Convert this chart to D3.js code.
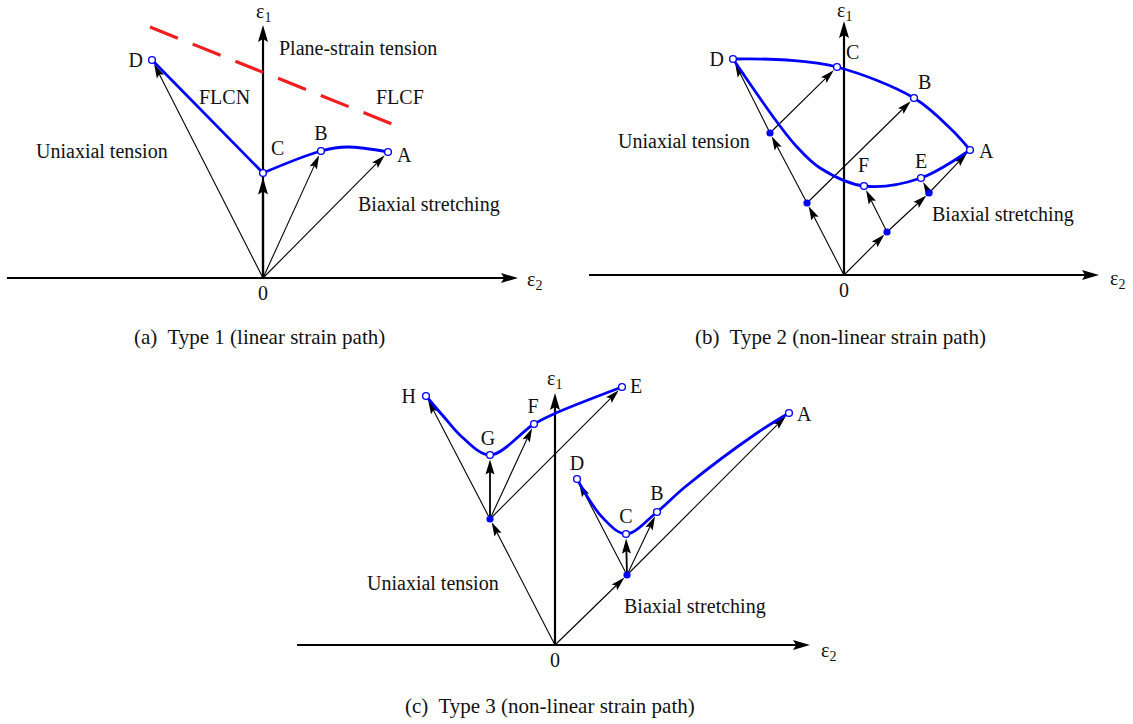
<!DOCTYPE html>
<html>
<head>
<meta charset="utf-8">
<script src="https://cdn.jsdelivr.net/npm/d3@7"></script>
<style>
  body { margin: 0; background: #fff; }
  text { font-family: "Liberation Serif", "Times New Roman", serif; fill: #111; white-space: pre; }
</style>
</head>
<body>
<div id="container"></div>
<script>
let w = 1133;
let h = 724;

// ---- data (strain space, e2 = minor strain, e1 = major strain) ----

// (a) Type 1 : linear strain path
let typeOnePoints = [
  {name: "D", e2: -1.11, e1: 2.18},
  {name: "C", e2: 0.00, e1: 1.05},
  {name: "B", e2: 0.58, e1: 1.27},
  {name: "A", e2: 1.25, e1: 1.26}
];
let typeOneFlcnLeft = [[-1.11, 2.18], [0.00, 1.05]];
let typeOneFlcnRight = [[0.00, 1.05], [0.58, 1.27], [0.84, 1.31], [1.25, 1.26]];
let typeOneFlcf = [[-1.13, 2.51], [1.39, 1.50]];
let typeOneArrows = [["O", "D"], ["O", "B"], ["O", "A"]];

// (b) Type 2 : non-linear strain path
let typeTwoPoints = [
  {name: "D", e2: -1.11, e1: 2.16},
  {name: "C", e2: -0.07, e1: 2.08},
  {name: "B", e2: 0.70, e1: 1.77},
  {name: "A", e2: 1.26, e1: 1.25},
  {name: "E", e2: 0.77, e1: 0.97},
  {name: "F", e2: 0.20, e1: 0.89}
];
let typeTwoDots = [
  {name: "p1", e2: -0.74, e1: 1.42},
  {name: "p2", e2: -0.37, e1: 0.72},
  {name: "p3", e2: 0.43, e1: 0.43},
  {name: "p4", e2: 0.85, e1: 0.82}
];
let typeTwoUpper = [[-1.11, 2.16], [-0.57, 2.15], [-0.07, 2.08], [0.70, 1.77], [1.08, 1.45], [1.26, 1.25]];
let typeTwoLower = [[-1.11, 2.16], [-0.67, 1.53], [-0.47, 1.28], [-0.24, 1.07], [0.20, 0.89], [0.77, 0.97], [1.26, 1.25]];
let typeTwoArrows = [
  ["O", "p2"], ["p2", "p1"], ["p1", "D"], ["p1", "C"], ["p2", "B"],
  ["O", "p3"], ["p3", "p4"], ["p4", "A"], ["p3", "F"], ["p4", "E"]
];

// (c) Type 3 : non-linear strain path
let typeThreePoints = [
  {name: "H", e2: -1.29, e1: 2.49},
  {name: "G", e2: -0.65, e1: 1.90},
  {name: "F", e2: -0.21, e1: 2.21},
  {name: "E", e2: 0.67, e1: 2.58},
  {name: "D", e2: 0.22, e1: 1.66},
  {name: "C", e2: 0.71, e1: 1.11},
  {name: "B", e2: 1.02, e1: 1.33},
  {name: "A", e2: 2.34, e1: 2.32}
];
let typeThreeDots = [
  {name: "L", e2: -0.65, e1: 1.26},
  {name: "R", e2: 0.72, e1: 0.70}
];
let typeThreeUpper = [[-1.29, 2.49], [-1.11, 2.28], [-0.93, 2.08], [-0.65, 1.90], [-0.21, 2.21], [0.01, 2.32], [0.67, 2.58]];
let typeThreeLower = [[0.22, 1.66], [0.47, 1.28], [0.71, 1.11], [1.02, 1.33], [1.30, 1.58], [2.02, 2.12], [2.34, 2.32]];
let typeThreeArrows = [
  ["O", "L"], ["L", "H"], ["L", "G"], ["L", "F"], ["L", "E"],
  ["O", "R"], ["R", "D"], ["R", "C"], ["R", "B"], ["R", "A"]
];

let captions = ["(a)  Type 1 (linear strain path)", "(b)  Type 2 (non-linear strain path)", "(c)  Type 3 (non-linear strain path)"];

// ---- layout ----
let blue = "#0000ff";
let fontSize = 20;

let viz = d3.select("#container").append("svg")
    .attr("width", w)
    .attr("height", h)
    .style("background-color", "white");

// arrow drawing: line plus filled head, tip stopped at the target's edge
function arrow(g, p0, p1, gap, size, width) {
  let dx = p1[0] - p0[0], dy = p1[1] - p0[1];
  let len = Math.hypot(dx, dy);
  let ux = dx / len, uy = dy / len;
  let tip = [p1[0] - ux * gap, p1[1] - uy * gap];
  let base = [tip[0] - ux * size.len, tip[1] - uy * size.len];
  let notch = [tip[0] - ux * size.len * 0.82, tip[1] - uy * size.len * 0.82];
  let px = -uy * size.hw, py = ux * size.hw;
  g.append("line")
    .attr("x1", p0[0]).attr("y1", p0[1])
    .attr("x2", notch[0]).attr("y2", notch[1])
    .attr("stroke", "#000").attr("stroke-width", width);
  g.append("path")
    .attr("d", "M" + tip + "L" + [base[0] + px, base[1] + py] + "L" + notch + "L" + [base[0] - px, base[1] - py] + "Z")
    .attr("fill", "#000");
}

let thinHead = {len: 14, hw: 4};
let midHead = {len: 15, hw: 4.5};
let axisHead = {len: 17, hw: 5};

function drawPanel(cfg) {
  let g = viz.append("g");
  let x = d3.scaleLinear().domain([0, 1]).range([cfg.ox, cfg.ox + 100]);
  let y = d3.scaleLinear().domain([0, 1]).range([cfg.oy, cfg.oy - 100]);

  // axes
  arrow(g, [x(cfg.xMin), y(0)], [x(cfg.xMax), y(0)], 0, axisHead, 2.2);
  arrow(g, [x(0), y(0)], [x(0), y(cfg.yMax)], 0, axisHead, 2.2);

  let lookup = {O: {e2: 0, e1: 0, r: 0}};
  cfg.points.forEach(p => lookup[p.name] = {e2: p.e2, e1: p.e1, r: 4.6});
  (cfg.dots || []).forEach(p => lookup[p.name] = {e2: p.e2, e1: p.e1, r: 3.6});

  if (cfg.flcf) {
    g.append("line")
      .attr("x1", x(cfg.flcf[0][0])).attr("y1", y(cfg.flcf[0][1]))
      .attr("x2", x(cfg.flcf[1][0])).attr("y2", y(cfg.flcf[1][1]))
      .attr("stroke", "#f01e1e").attr("stroke-width", 3.2)
      .attr("stroke-dasharray", "30,16");
  }

  cfg.arrows.forEach(a => {
    let s = lookup[a[0]], t = lookup[a[1]];
    let vertical = a[0] != "O" && Math.abs(s.e2 - t.e2) < 0.02;
    arrow(g, [x(s.e2), y(s.e1)], [x(t.e2), y(t.e1)], t.r,
      vertical ? midHead : thinHead, vertical ? 1.8 : 1.1);
  });
  if (cfg.axisArrowTo) {
    let t = lookup[cfg.axisArrowTo];
    arrow(g, [x(0), y(0)], [x(t.e2), y(t.e1)], t.r, axisHead, 2.2);
  }

  let straight = d3.line().x(d => x(d[0])).y(d => y(d[1]));
  let smooth = d3.line().x(d => x(d[0])).y(d => y(d[1])).curve(d3.curveCatmullRom.alpha(0.5));
  cfg.lines.forEach(l => {
    g.append("path").attr("d", (l.straight ? straight : smooth)(l.data))
      .attr("fill", "none").attr("stroke", blue).attr("stroke-width", 2.8)
      .attr("stroke-linejoin", "round");
  });

  g.selectAll(".dot").data(cfg.dots || []).enter().append("circle")
    .attr("cx", d => x(d.e2)).attr("cy", d => y(d.e1)).attr("r", 3.6)
    .attr("fill", blue);
  g.selectAll(".open").data(cfg.points).enter().append("circle")
    .attr("cx", d => x(d.e2)).attr("cy", d => y(d.e1)).attr("r", 3.4)
    .attr("fill", "white").attr("stroke", blue).attr("stroke-width", 1.4);

  // point labels
  g.selectAll(".lab").data(cfg.points).enter().append("text")
    .attr("x", d => x(d.e2) + cfg.offsets[d.name][0])
    .attr("y", d => y(d.e1) + cfg.offsets[d.name][1])
    .attr("text-anchor", d => cfg.offsets[d.name][2])
    .attr("font-size", fontSize)
    .text(d => d.name);

  // free labels
  cfg.notes.forEach(n => {
    g.append("text").attr("x", n[1]).attr("y", n[2]).attr("font-size", fontSize).text(n[0]);
  });

  // axis labels
  let e1 = g.append("text").attr("x", cfg.e1Pos[0]).attr("y", cfg.e1Pos[1]).attr("font-size", fontSize).text("ε");
  e1.append("tspan").attr("font-size", 14).attr("dy", 4).text("1");
  if (cfg.e2Pos) {
    let e2 = g.append("text").attr("x", cfg.e2Pos[0]).attr("y", cfg.e2Pos[1]).attr("font-size", fontSize).text("ε");
    e2.append("tspan").attr("font-size", 14).attr("dy", 4).text("2");
  }
  g.append("text").attr("x", x(0)).attr("y", y(0) + 22).attr("text-anchor", "middle")
    .attr("font-size", fontSize).text("0");

  g.append("text").attr("x", cfg.caption[1]).attr("y", cfg.caption[2])
    .attr("font-size", 21).text(cfg.caption[0]);
}

drawPanel({
  ox: 263, oy: 278, xMin: -2.56, xMax: 2.55, yMax: 2.53,
  points: typeOnePoints,
  arrows: typeOneArrows,
  axisArrowTo: "C",
  flcf: typeOneFlcf,
  lines: [{data: typeOneFlcnLeft, straight: true}, {data: typeOneFlcnRight}],
  offsets: {D: [-9, 7, "end"], C: [8, -18, "start"], B: [0, -11, "middle"], A: [9, 10, "start"]},
  notes: [["Plane-strain tension", 279, 55], ["FLCN", 199, 104], ["FLCF", 376, 104],
          ["Uniaxial tension", 36, 158], ["Biaxial stretching", 358, 211]],
  e1Pos: [256, 18], e2Pos: [527, 286],
  caption: [captions[0], 134, 344]
});

drawPanel({
  ox: 844, oy: 275, xMin: -2.55, xMax: 2.55, yMax: 2.54,
  points: typeTwoPoints, dots: typeTwoDots,
  arrows: typeTwoArrows,
  lines: [{data: typeTwoUpper}, {data: typeTwoLower}],
  offsets: {D: [-9, 7, "end"], C: [9, -8, "start"], B: [4, -9, "start"], A: [9, 8, "start"],
            E: [-6, -10, "start"], F: [-6, -14, "start"]},
  notes: [["Uniaxial tension", 618, 148], ["Biaxial stretching", 932, 221]],
  e1Pos: [837, 17], e2Pos: [1110, 285],
  caption: [captions[1], 695, 344]
});

drawPanel({
  ox: 555, oy: 645, xMin: -2.58, xMax: 2.55, yMax: 2.52,
  points: typeThreePoints, dots: typeThreeDots,
  arrows: typeThreeArrows,
  lines: [{data: typeThreeUpper}, {data: typeThreeLower}],
  offsets: {H: [-10, 7, "end"], G: [-2, -10, "middle"], F: [-1, -11, "middle"], E: [8, 6, "start"],
            A: [8, 8, "start"], D: [0, -9, "middle"], C: [0, -11, "middle"], B: [0, -12, "middle"]},
  notes: [["Uniaxial tension", 367, 590], ["Biaxial stretching", 624, 613]],
  e1Pos: [547, 385], e2Pos: [821, 657],
  caption: [captions[2], 405, 713]
});
</script>
</body>
</html>
